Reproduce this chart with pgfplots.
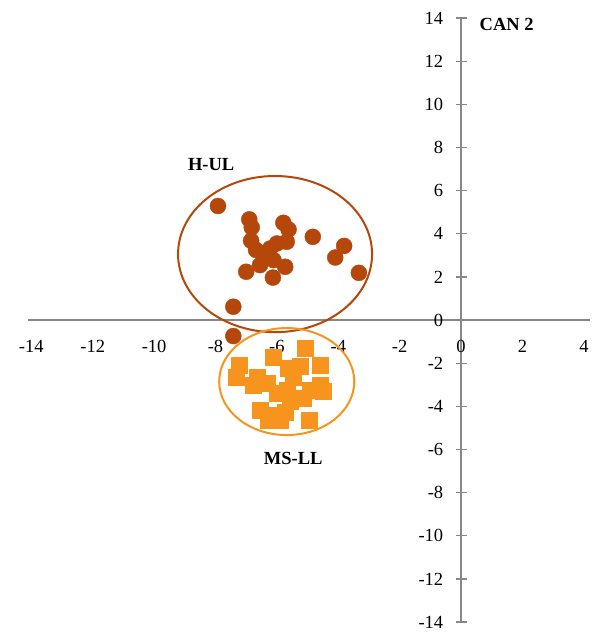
\documentclass[border=0pt]{standalone}
\usepackage{pgfplots}
\pgfplotsset{compat=1.18}
\usepackage{fontspec}
\setmainfont{Liberation Serif}
\definecolor{brn}{HTML}{B5470B}
\definecolor{org}{HTML}{F7941D}
\definecolor{axg}{HTML}{878787}
\begin{document}
\fontsize{18.5}{22}\selectfont
\begin{tikzpicture}
\begin{axis}[
  x=30.7pt, y=21.57pt,
  xmin=-14.1, xmax=4.2, ymin=-14, ymax=14,
  axis lines=middle,
  axis line style={axg, line width=1.5pt, -},
  xtick={-14,-12,...,4}, ytick={-14,-12,...,14},
  hide obscured x ticks=false, hide obscured y ticks=false,
  x tick style={draw=none},
  y tick style={axg, line width=1.3pt},
  major tick length=11pt, tick align=center,
  xticklabel style={anchor=north, yshift=-8pt, font=\fontsize{18.5}{22}\selectfont},
  yticklabel style={anchor=east, xshift=-6pt, font=\fontsize{18.5}{22}\selectfont},
  /pgf/number format/assume math mode=true,
  clip=false,
]
\addplot[only marks, mark=*, mark size=8pt, mark options={draw=brn, fill=brn}, color=brn]
coordinates {
(-7.92,5.29) (-6.90,4.67) (-6.82,4.30) (-5.79,4.51) (-5.62,4.20)
(-4.83,3.86) (-3.81,3.44) (-4.10,2.90) (-3.33,2.19) (-6.84,3.68)
(-6.68,3.25) (-6.22,3.32) (-6.00,3.55) (-5.68,3.63) (-6.33,2.93)
(-6.55,2.55) (-6.11,2.78) (-7.00,2.24) (-5.73,2.47) (-6.13,1.97)
(-7.42,0.62) (-7.42,-0.74)
};
\addplot[only marks, mark=square*, mark size=8pt, mark options={draw=org, fill=org}, color=org]
coordinates {
(-5.08,-1.31) (-7.22,-2.09) (-7.31,-2.63) (-6.13,-1.73) (-5.62,-2.24)
(-5.24,-2.16) (-4.59,-2.09) (-6.65,-2.63) (-6.33,-2.94) (-5.46,-2.63)
(-4.59,-3.02) (-6.77,-3.02) (-5.68,-3.25) (-4.92,-3.25) (-4.49,-3.32)
(-6.00,-3.40) (-5.57,-3.77) (-5.14,-3.63) (-6.55,-4.17) (-6.17,-4.40)
(-5.73,-4.25) (-4.94,-4.64) (-6.28,-4.64) (-5.90,-4.64)
};
\draw[brn, line width=2pt] (axis cs:-6.06,3.06) ellipse [x radius=3.16, y radius=3.62];
\draw[org, line width=2pt] (axis cs:-5.68,-2.85) ellipse [x radius=2.2, y radius=2.48];
\node[font=\fontsize{18.5}{22}\selectfont\bfseries] at (axis cs:-8.14,7.19) {H-UL};
\node[font=\fontsize{18.5}{22}\selectfont\bfseries] at (axis cs:-5.47,-6.4) {MS-LL};
\node[font=\fontsize{18.5}{22}\selectfont\bfseries, anchor=west] at (axis cs:0.4,13.7) {CAN 2};
\coordinate (bl) at (axis cs:-15.02,-14.6);
\coordinate (tr) at (axis cs:4.25,14.84);
\end{axis}
\pgfresetboundingbox
\path[use as bounding box] (bl) rectangle (tr);
\end{tikzpicture}
\end{document}
